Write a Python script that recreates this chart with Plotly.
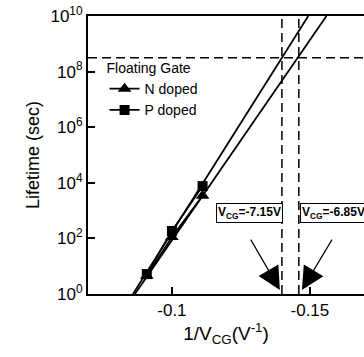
import plotly.graph_objects as go

# ---- data ----
inv_vcg_pts = [-1/11, -1/10, -1/9]          # 1/V_CG of measured points
life_p = [5.2, 185, 7600]                    # P doped lifetimes (sec)
life_n = [4.5, 112, 3400]                    # N doped lifetimes (sec)

fit_life = [1, 1e10]                          # lifetime span of fitted lines
fit_p_x = [-0.0859, -0.1494]                  # P doped fit 1/V_CG at those lifetimes
fit_n_x = [-0.0866, -0.1560]                  # N doped fit

ten_years = 3.15e8
vcg_marks = [-7.15, -6.85]
x_range = [-0.0696, -0.1696]
y_ticks = [1, 1e2, 1e4, 1e6, 1e8, 1e10]
y_ticktext = ["10<sup>0</sup>", "10<sup>2</sup>", "10<sup>4</sup>", "10<sup>6</sup>",
              "10<sup>8</sup>", "10<sup>10</sup>"]
x_ticks = [-0.1, -0.15]
x_ticktext = ["-0.1", "-0.15"]

FONT = "Liberation Sans, Arial, Helvetica, sans-serif"
fig = go.Figure()

dash = "9px,5px"
# reference dashed lines
fig.add_trace(go.Scatter(x=x_range, y=[ten_years, ten_years], mode="lines",
                         line=dict(color="black", width=1.5, dash=dash),
                         showlegend=False, hoverinfo="skip"))
for v in vcg_marks:
    fig.add_trace(go.Scatter(x=[1/v, 1/v], y=fit_life, mode="lines",
                             line=dict(color="black", width=1.5, dash=dash),
                             showlegend=False, hoverinfo="skip"))

# fitted lines
fig.add_trace(go.Scatter(x=fit_n_x, y=fit_life, mode="lines",
                         line=dict(color="black", width=1.8), showlegend=False))
fig.add_trace(go.Scatter(x=fit_p_x, y=fit_life, mode="lines",
                         line=dict(color="black", width=1.8), showlegend=False))

# measured points (legend entries)
fig.add_trace(go.Scatter(x=inv_vcg_pts, y=life_n, mode="lines+markers", name="N doped",
                         line=dict(color="black", width=1.8),
                         marker=dict(symbol="triangle-up", size=12, color="black")))
fig.add_trace(go.Scatter(x=inv_vcg_pts, y=life_p, mode="lines+markers", name="P doped",
                         line=dict(color="black", width=1.8),
                         marker=dict(symbol="square", size=10, color="black")))

# label boxes
fig.add_annotation(xref="paper", yref="paper", x=0.585, y=0.2536,
                   text="<b>V<sub>CG</sub>=-7.15V</b>", showarrow=False,
                   font=dict(family=FONT, size=12, color="black"),
                   bordercolor="black", borderwidth=1, borderpad=1, bgcolor="white")
fig.add_annotation(xref="paper", yref="paper", x=0.768, y=0.2536, xanchor="left",
                   text="<b>V<sub>CG</sub>=-6.85V</b>", showarrow=False,
                   font=dict(family=FONT, size=12, color="black"),
                   bordercolor="black", borderwidth=1, borderpad=1, bgcolor="white")
# arrows
for tip_x, tail_x in [(-0.13913, -0.12826), (-0.1471, -0.15833)]:
    fig.add_annotation(x=tip_x, y=0.144, ax=tail_x, ay=2.01, xref="x", yref="y",
                       axref="x", ayref="y", text="", showarrow=True,
                       arrowhead=2, arrowsize=3.8, arrowwidth=1.2, arrowcolor="black")

fig.update_layout(
    width=364, height=357,
    margin=dict(l=88, r=0, t=16, b=63),
    paper_bgcolor="white", plot_bgcolor="white",
    font=dict(family=FONT, color="black", size=17),
    legend=dict(x=0.06, y=0.86, xanchor="left", yanchor="top",
                bgcolor="rgba(0,0,0,0)", font=dict(size=14),
                title=dict(text="Floating Gate", font=dict(size=14)),
                tracegroupgap=0, itemwidth=30),
    xaxis=dict(range=x_range, tickvals=x_ticks, ticktext=x_ticktext,
               ticks="inside", ticklen=7, tickwidth=1.5, tickcolor="black",
               showline=True, linecolor="black", linewidth=2, mirror=True,
               showgrid=False, zeroline=False,
               title=dict(text="1/V<sub>CG</sub>(V<sup>-1</sup>)", font=dict(size=19), standoff=2)),
    yaxis=dict(type="log", range=[0, 10], tickvals=y_ticks, ticktext=y_ticktext,
               ticks="inside", ticklen=7, tickwidth=1.5, tickcolor="black",
               showline=True, linecolor="black", linewidth=2,
               showgrid=False, zeroline=False,
               title=dict(text="Lifetime (sec)", font=dict(size=18), standoff=6)),
)

fig.write_html("out.html")
